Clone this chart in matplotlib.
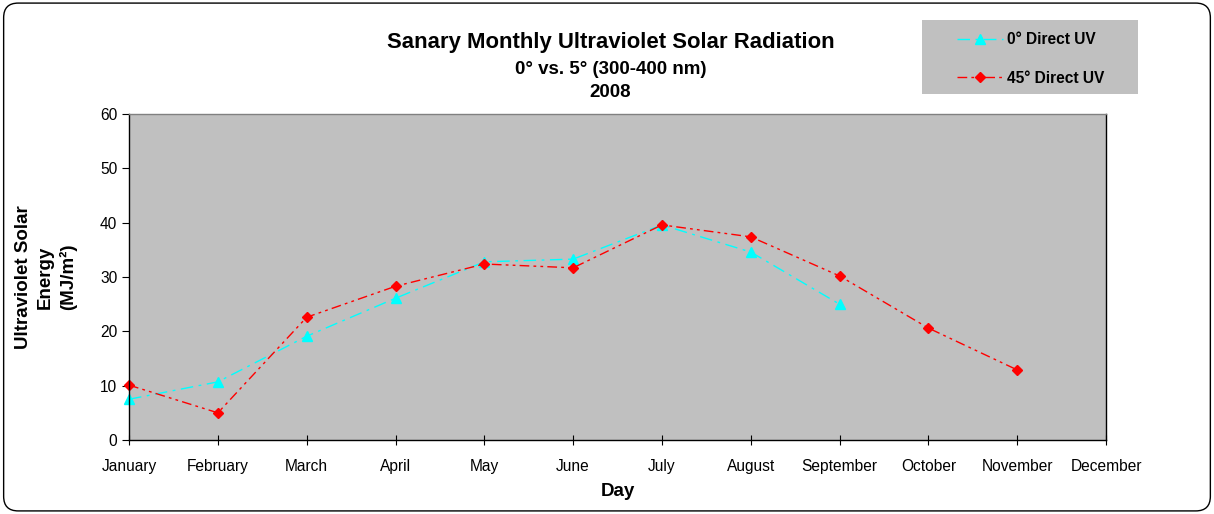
import matplotlib
matplotlib.use("Agg")
import matplotlib.pyplot as plt
from matplotlib.patches import FancyBboxPatch, Rectangle
import numpy as np

months = ['January', 'February', 'March', 'April', 'May', 'June', 'July',
          'August', 'September', 'October', 'November', 'December']
uv_0deg = [7.5, 10.7, 19.1, 26.1, 32.8, 33.3, 39.6, 34.6, 25.0, np.nan, np.nan, np.nan]
uv_45deg = [10.1, 5.0, 22.6, 28.3, 32.4, 31.7, 39.6, 37.4, 30.2, 20.6, 12.9, np.nan]

plt.rcParams['font.family'] = ['Liberation Sans', 'DejaVu Sans']

fig = plt.figure(figsize=(12.14, 5.14), dpi=100)
border = FancyBboxPatch((0.003, 0.006), 0.994, 0.988, boxstyle="round,pad=0,rounding_size=0.012",
                        transform=fig.transFigure, fill=False, edgecolor='black', linewidth=1.0,
                        mutation_aspect=1214/514)
fig.patches.append(border)

ax = fig.add_axes([0.1063, 0.144, 0.8048, 0.634])
ax.set_facecolor('#C0C0C0')
x = np.arange(len(months))
l1, = ax.plot(x, uv_0deg, color='cyan', linestyle=(0, (9, 4, 2, 4)), linewidth=1.0,
              marker='^', markersize=7, label='0° Direct UV', clip_on=False)
l2, = ax.plot(x, uv_45deg, color='red', linestyle=(0, (7, 3, 2, 3, 2, 3)), linewidth=1.0,
              marker='D', markersize=5.5, label='45° Direct UV', clip_on=False)

ax.set_xlim(0, 11)
ax.set_ylim(0, 60)
ax.set_xticks(x)
ax.set_xticklabels(months, fontsize=11.2)
ax.set_yticks(range(0, 61, 10))
ax.tick_params(axis='y', labelsize=11.2, direction='out', length=5)
ax.tick_params(axis='x', direction='inout', length=7, pad=10)
for s in ax.spines.values():
    s.set_linewidth(1.0)
ax.spines['top'].set_color('#808080')
ax.set_xlabel('Day', fontsize=13.5, fontweight='bold', labelpad=7)
ax.set_ylabel('Ultraviolet Solar\nEnergy\n(MJ/m²)', fontsize=13.5, fontweight='bold',
              linespacing=1.35)
ax.yaxis.label.set_va('center')
ax.yaxis.set_label_coords(-0.085, 0.5)

fig.text(0.503, 0.918, 'Sanary Monthly Ultraviolet Solar Radiation', ha='center', va='center',
         fontsize=15.9, fontweight='bold')
fig.text(0.503, 0.864, '0° vs. 5° (300-400 nm)', ha='center', va='center',
         fontsize=13.5, fontweight='bold')
fig.text(0.503, 0.82, '2008', ha='center', va='center', fontsize=13.5, fontweight='bold')

fig.patches.append(Rectangle((0.7595, 0.817), 0.178, 0.144, transform=fig.transFigure,
                             facecolor='#C0C0C0', edgecolor='none'))
leg = fig.legend(handles=[l1, l2], loc='center left', bbox_to_anchor=(0.788, 0.885),
                 fontsize=11.2, frameon=False, handlelength=3.0, labelspacing=1.5,
                 borderpad=0, borderaxespad=0, handletextpad=0.25)
for t in leg.get_texts():
    t.set_fontweight('bold')

fig.savefig('out.png', dpi=100)
